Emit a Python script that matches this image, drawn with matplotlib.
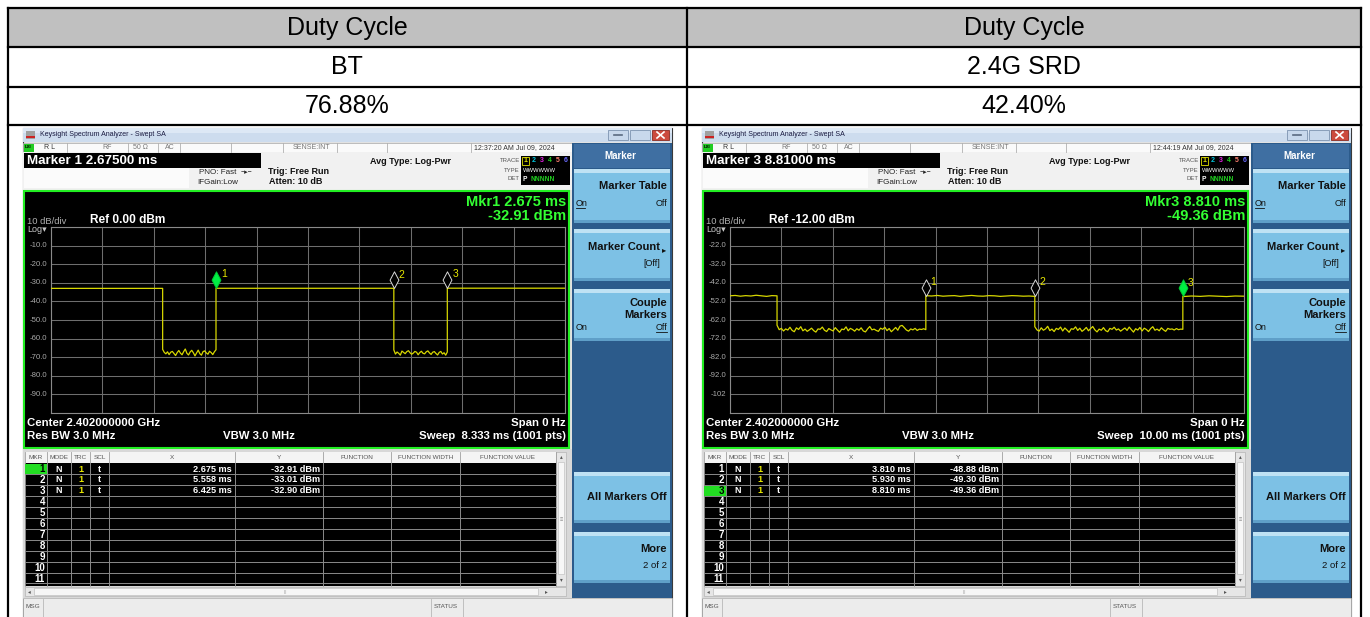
import numpy as np
import matplotlib
matplotlib.use('Agg')
import matplotlib.pyplot as plt
from matplotlib.patches import Rectangle
from matplotlib.path import Path

plt.rcParams['font.family'] = ['Liberation Sans', 'DejaVu Sans']

# ---------------- data ----------------
header_text = ['Duty Cycle', 'Duty Cycle']
mode_text = ['BT', '2.4G SRD']
duty_text = ['76.88%', '42.40%']

# BT capture
bt_sweep_ms = 8.333
bt_ref_dbm = 0.0
bt_tick_labels = ['-10.0', '-20.0', '-30.0', '-40.0', '-50.0', '-60.0', '-70.0', '-80.0', '-90.0']
bt_edges_ms = [0.0, 1.81, 2.675, 5.558, 6.425, 8.333]
bt_hi0 = [-33.0, -33.0]
bt_lo1 = [-65.8, -67.4, -68.2, -67.1, -68.6, -67.3, -66.9, -68.0, -69.1, -67.5, -66.4, -67.8,
          -68.7, -67.0, -65.6, -67.9, -68.8, -67.2, -66.3, -67.6, -69.3, -67.7, -66.2, -68.1,
          -68.9, -67.0, -66.6, -67.7, -68.4, -66.8, -67.5, -68.6, -67.1, -66.0]
bt_hi1 = [-32.95, -32.95]
bt_lo2 = [-66.1, -68.3, -67.2, -67.9, -68.9, -66.7, -67.4, -68.1, -67.0, -66.5, -67.6, -68.4,
          -67.8, -66.9, -67.3, -68.7, -67.5, -66.8, -67.9, -68.2, -67.1, -66.6, -67.7, -68.5,
          -67.3, -67.0, -68.0, -68.8, -67.4, -66.9, -68.3, -67.6, -68.9, -67.2]
bt_hi2 = [-32.9, -32.9]
bt_mkr_x = [2.675, 5.558, 6.425]
bt_mkr_y = [-32.91, -33.01, -32.90]
bt_active = 0

# 2.4G SRD capture
srd_sweep_ms = 10.0
srd_ref_dbm = -12.0
srd_tick_labels = ['-22.0', '-32.0', '-42.0', '-52.0', '-62.0', '-72.0', '-82.0', '-92.0', '-102']
srd_edges_ms = [0.0, 0.915, 3.81, 5.93, 8.81, 10.0]
srd_hi0 = [-49.0, -48.8, -49.2, -48.9, -49.1, -48.7, -49.0, -49.3, -48.9, -49.0]
srd_lo1 = [-64.8, -67.2, -66.5, -67.9, -66.8, -67.4, -65.9, -67.6, -68.3, -66.2, -67.1, -65.6,
           -67.8, -66.9, -68.1, -67.3, -66.4, -67.7, -68.5, -66.8, -67.0, -65.8, -67.5, -68.2,
           -66.6, -67.3, -67.9, -66.1, -67.4, -68.6, -66.9, -67.2, -65.7, -67.8, -66.5, -67.1,
           -68.0, -66.7, -67.5, -66.2, -67.9, -68.4, -66.8, -65.5, -67.3, -66.9, -67.6, -68.1,
           -66.4, -67.0, -65.9, -67.7, -66.6, -68.3, -67.2, -66.0, -67.5, -65.3, -64.9, -66.1,
           -67.4, -68.0, -66.8, -67.3, -66.5, -67.6, -66.9, -67.1, -66.7, -67.2]
srd_hi1 = [-48.9, -49.1, -48.8, -49.2, -49.0, -48.9, -49.3, -49.0, -48.8, -49.1, -49.2, -48.9,
           -49.0, -49.3, -49.1, -48.9, -49.0, -49.2, -49.1, -49.3]
srd_lo2 = [-65.6, -67.3, -68.0, -66.2, -67.5, -66.8, -65.4, -67.7, -66.9, -68.2, -66.5, -67.1,
           -65.8, -67.9, -66.3, -67.4, -68.6, -66.7, -67.0, -65.7, -67.6, -66.4, -68.1, -67.2,
           -66.0, -67.8, -66.6, -65.5, -67.3, -68.4, -66.9, -67.5, -66.1, -67.7, -68.3, -66.5,
           -67.0, -65.9, -67.4, -66.8, -68.0, -67.1, -66.3, -67.6, -65.8, -67.2, -68.5, -66.7,
           -67.4, -66.0, -67.9, -66.4, -67.1, -68.2, -66.6, -65.6, -67.5, -66.9, -67.8, -66.2,
           -67.3, -68.1, -66.5, -67.0, -66.8, -67.4, -66.6, -67.2, -66.9, -67.0]
srd_hi2 = [-49.4, -49.1, -49.3, -49.0, -49.2, -49.4, -49.1, -49.2]
srd_mkr_x = [3.810, 5.930, 8.810]
srd_mkr_y = [-48.88, -49.30, -49.36]
srd_active = 2

screens = [
    dict(x0=23, marker_title='Marker 1 2.67500 ms', clock='12:37:20 AM Jul 09, 2024',
         ref_text='Ref 0.00 dBm', mkr_line1='Mkr1 2.675 ms', mkr_line2='-32.91 dBm',
         sweep_text='Sweep  8.333 ms (1001 pts)', sweep=bt_sweep_ms, ref=bt_ref_dbm,
         ticks=bt_tick_labels, edges=bt_edges_ms,
         segs=[bt_hi0, bt_lo1, bt_hi1, bt_lo2, bt_hi2],
         mx=bt_mkr_x, my=bt_mkr_y, active=bt_active),
    dict(x0=702, marker_title='Marker 3 8.81000 ms', clock='12:44:19 AM Jul 09, 2024',
         ref_text='Ref -12.00 dBm', mkr_line1='Mkr3 8.810 ms', mkr_line2='-49.36 dBm',
         sweep_text='Sweep  10.00 ms (1001 pts)', sweep=srd_sweep_ms, ref=srd_ref_dbm,
         ticks=srd_tick_labels, edges=srd_edges_ms,
         segs=[srd_hi0, srd_lo1, srd_hi1, srd_lo2, srd_hi2],
         mx=srd_mkr_x, my=srd_mkr_y, active=srd_active),
]

# ---------------- figure ----------------
W, H = 1370, 617
fig = plt.figure(figsize=(13.7, 6.17), dpi=100)
bg = fig.add_axes([0, 0, 1, 1], zorder=0)
bg.set_xlim(0, W)
bg.set_ylim(H, 0)
bg.axis('off')

# outer word table
bg.add_patch(Rectangle((8, 8), 1353, 39, facecolor='#c0c0c0', edgecolor='none', zorder=1))
for yy in [8, 47, 87, 125]:
    bg.plot([8, 1361], [yy, yy], color='black', lw=1.6, zorder=3, solid_capstyle='projecting')
for xx in [8, 687, 1361]:
    bg.plot([xx, xx], [8, 617], color='black', lw=1.6, zorder=3)
for i, cx in enumerate([347, 1024]):
    bg.text(cx, 28, header_text[i], fontsize=18, ha='center', va='center', zorder=4)
    bg.text(cx, 67, mode_text[i], fontsize=18, ha='center', va='center', zorder=4)
    bg.text(cx, 106, duty_text[i], fontsize=18, ha='center', va='center', zorder=4)

# marker shape: diamond sitting on top of the point
diamond = Path([(0, 0), (0.53, 1), (0, 2), (-0.53, 1), (0, 0)],
               [Path.MOVETO, Path.LINETO, Path.LINETO, Path.LINETO, Path.CLOSEPOLY])

GX, GY, GW, GH = 28, 227, 514, 186   # graticule inside the screenshot
COLS = [2, 24, 48, 67, 86, 212, 300, 368, 437, 533]


def draw_screen(c):
    x0 = c['x0']

    def R(lx, y, w, h, fc, ec='none', lw=0, z=2):
        bg.add_patch(Rectangle((x0 + lx, y), w, h, facecolor=fc, edgecolor=ec, linewidth=lw, zorder=z))

    def T(lx, y, s, size, color='black', weight='normal', ha='left', z=6):
        bg.text(x0 + lx, y, s, fontsize=size, color=color, fontweight=weight,
                ha=ha, va='center', zorder=z)

    def L(x1, y1, x2, y2, color, lw=0.7, z=4):
        bg.plot([x0 + x1, x0 + x2], [y1, y2], color=color, lw=lw, zorder=z)

    # window
    R(0, 128, 649, 489, '#e2e2e2', ec='#3a3a3a', lw=0.8, z=1)
    R(0, 128, 649, 14, '#cddcee')
    R(0, 128, 649, 5, '#dde8f5')
    R(3, 131, 9, 8, '#a0a0a0')
    R(3, 136, 9, 2, '#cc2222', z=3)
    T(17, 135, 'Keysight Spectrum Analyzer - Swept SA', 5, '#1a1a40')
    R(585, 130, 20, 10, '#c8d8ec', ec='#7d93b0', lw=0.6, z=3)
    R(607, 130, 20, 10, '#c8d8ec', ec='#7d93b0', lw=0.6, z=3)
    R(629, 130, 17, 10, '#cc4a3e', ec='#8a2a22', lw=0.6, z=3)
    L(591, 135, 599, 135, '#5a6a80', 1.2)
    L(634, 132, 641, 138, 'white', 1.2)
    L(634, 138, 641, 132, 'white', 1.2)

    # status row
    R(0, 143, 549, 9, '#fafafa', ec='#a8a8a8', lw=0.5, z=2)
    for sx in [44, 105, 135, 157, 208, 260, 314, 364, 448]:
        L(sx, 143, sx, 152, '#b0b0b0', 0.6)
    R(1, 143.5, 10, 8, '#22cc22', z=3)
    T(2, 147.5, 'LXI', 3.2, 'black', 'bold')
    T(21, 147.5, 'R L', 5, '#333333')
    T(79, 147.5, 'RF', 5, '#777777')
    T(110, 147.5, '50 Ω', 5, '#777777')
    T(142, 147.5, 'AC', 5, '#777777')
    T(288, 147.5, 'SENSE:INT', 5, '#777777', ha='center')
    T(451, 147.5, c['clock'], 5, '#333333')

    # info strip
    R(0, 152, 549, 38, '#f1f1f1')
    R(1, 168, 165, 20, '#fbfbfb')
    R(1, 153, 237, 15, 'black', z=3)
    T(4, 160.5, c['marker_title'], 9.6, 'white', 'bold')
    T(213, 173, 'PNO: Fast', 5.8, '#222222', ha='right')
    T(218, 173, '−▸−', 5, '#222222')
    T(174, 183, 'IFGain:Low', 5.8, '#222222')
    T(245, 171, 'Trig: Free Run', 6.5, '#111111', 'bold')
    T(246, 182, 'Atten: 10 dB', 6.5, '#111111', 'bold')
    T(347, 161, 'Avg Type: Log-Pwr', 6.5, '#111111', 'bold')
    T(497, 161, 'TRACE', 4.3, '#555555', ha='right')
    T(497, 170, 'TYPE', 4.3, '#555555', ha='right')
    T(497, 179, 'DET', 4.3, '#555555', ha='right')
    R(498, 156, 49, 29, 'black', z=3)
    R(499.5, 157, 7, 8, 'none', ec='#e0e000', lw=0.6, z=5)
    tcol = ['#e0e000', '#00c8e0', '#e020e0', '#20d020', '#ff8070', '#6a6aff']
    for k in range(6):
        T(503 + 8 * k, 161, str(k + 1), 5, tcol[k], 'bold', ha='center')
    T(500, 170, 'WWWWWW', 4.2, 'white')
    T(500, 179.5, 'P', 4.8, 'white', 'bold')
    T(508, 179.5, 'NNNNN', 4.8, '#20d020', 'bold')

    # measurement screen
    R(1, 191, 545, 257, 'black', ec='#22ee22', lw=1.5, z=3)
    T(543, 202, c['mkr_line1'], 10.5, '#33ff33', 'bold', ha='right')
    T(543, 216, c['mkr_line2'], 10.5, '#33ff33', 'bold', ha='right')
    T(4, 222, '10 dB/div', 6.8, '#b0b0b0')
    T(67, 220, c['ref_text'], 8.6, 'white', 'bold')
    T(4, 229.5, 'Log▾', 6.5, '#c8c8c8')
    for k, lab in enumerate(c['ticks']):
        T(24, GY + (k + 1) * GH / 10, lab, 5.6, '#a8a8a8', ha='right')
    T(4, 423, 'Center 2.402000000 GHz', 8.2, 'white', 'bold')
    T(4, 436, 'Res BW 3.0 MHz', 8.2, 'white', 'bold')
    T(200, 436, 'VBW 3.0 MHz', 8.2, 'white', 'bold')
    T(543, 423, 'Span 0 Hz', 8.2, 'white', 'bold', ha='right')
    T(543, 436, c['sweep_text'], 8.2, 'white', 'bold', ha='right')

    # trace graticule
    ax = fig.add_axes([(x0 + GX) / W, 1 - (GY + GH) / H, GW / W, GH / H], zorder=2)
    ax.set_facecolor('black')
    ax.set_xlim(0, c['sweep'])
    ax.set_ylim(c['ref'] - 100, c['ref'])
    ax.set_xticks(np.linspace(0, c['sweep'], 11))
    ax.set_yticks(c['ref'] - 10 * np.arange(11))
    ax.grid(True, color='#6e6e6e', lw=0.75)
    ax.tick_params(length=0, labelbottom=False, labelleft=False)
    for sp in ax.spines.values():
        sp.set_color('#8a8a8a')
        sp.set_linewidth(0.8)
    xs, ys = [], []
    for i, vals in enumerate(c['segs']):
        xs.extend(np.linspace(c['edges'][i], c['edges'][i + 1], len(vals)))
        ys.extend(vals)
    ax.plot(xs, ys, color='#d8d800', lw=0.9, zorder=3)
    for i, (mx, my) in enumerate(zip(c['mx'], c['my'])):
        if i == c['active']:
            fc, ec = '#00ee44', '#00cc33'
        else:
            fc, ec = 'black', '#d8d8d8'
        ax.plot([mx], [my], marker=diamond, ms=24, mfc=fc, mec=ec, mew=0.7,
                ls='none', clip_on=False, zorder=5)
        ax.annotate(str(i + 1), (mx, my), xytext=(3.5, 10), textcoords='offset points',
                    color='#e8e800', fontsize=7.5, ha='left', va='center', zorder=6)

    # marker table
    R(0, 448.5, 549, 150, '#d8d8d8')
    R(2, 452, 531, 11, '#f4f4f4', z=3)
    R(2, 463, 531, 123, 'black', z=3)
    for cx in COLS:
        L(cx, 452, cx, 586, '#a0a0a0', 0.6)
    heads = ['MKR', 'MODE', 'TRC', 'SCL', 'X', 'Y', 'FUNCTION', 'FUNCTION WIDTH', 'FUNCTION VALUE']
    for k, hname in enumerate(heads):
        T((COLS[k] + COLS[k + 1]) / 2, 457.5, hname, 4.6, '#555555', ha='center')
    for k in range(1, 12):
        L(2, 463 + 10.95 * k, 533, 463 + 10.95 * k, '#8a8a8a', 0.7)
    for k in range(11):
        yy = 469 + 10.95 * k
        col = 'white'
        if k == c['active']:
            R(2.5, yy - 5, 21.5, 10, '#22dd22', z=4)
            col = 'black'
        T(22, yy, str(k + 1), 7, col, 'bold', ha='right')
        if k < len(c['mx']):
            T(36, yy, 'N', 6.5, 'white', 'bold', ha='center')
            T(57.5, yy, '1', 6.5, '#e8e800', 'bold', ha='center')
            T(76.5, yy, 't', 6.5, 'white', 'bold', ha='center')
            T(209, yy, f"{c['mx'][k]:.3f} ms", 6.6, 'white', 'bold', ha='right')
            T(297, yy, f"{c['my'][k]:.2f} dBm", 6.6, 'white', 'bold', ha='right')
    R(533, 452, 10, 134, '#e6e6e6', ec='#b4b4b4', lw=0.5, z=3)
    R(535, 462, 6, 112, '#f7f7f7', ec='#c4c4c4', lw=0.5, z=4)
    T(538, 457, '▴', 4, '#555555', ha='center')
    T(538, 580, '▾', 4, '#555555', ha='center')
    T(538, 520, '≡', 4, '#888888', ha='center')
    R(2, 587, 541, 9, '#e6e6e6', ec='#b4b4b4', lw=0.5, z=3)
    R(11, 588, 504, 7, '#f6f6f6', ec='#c0c0c0', lw=0.5, z=4)
    T(5, 591.5, '◂', 4, '#555555')
    T(522, 591.5, '▸', 4, '#555555')
    T(262, 591.5, '|||', 3.2, '#999999', ha='center')

    # bottom message bar
    R(0, 598, 649, 19, '#ececec', ec='#b0b0b0', lw=0.5, z=3)
    L(20, 599, 20, 617, '#b8b8b8', 0.6, z=5)
    L(408, 599, 408, 617, '#b8b8b8', 0.6, z=5)
    L(440, 599, 440, 617, '#b8b8b8', 0.6, z=5)
    T(3, 607, 'MSG', 4.6, '#555555')
    T(411, 607, 'STATUS', 4.6, '#555555')

    # soft key panel
    R(549, 143, 100, 455, '#2c5b8b')
    R(551, 144, 96, 24, '#3f6fa2', z=3)
    T(597, 156, 'Marker', 7, 'white', 'bold', ha='center')
    for yt, hh in [(169, 54), (229, 52), (289, 52), (472, 51), (532, 51)]:
        R(551, yt, 96, hh, '#7dc1e5', z=3)
        R(551, yt, 96, 4, '#bfe2f4', z=3)
        R(551, yt + hh - 3, 96, 3, '#5f9fc8', z=3)
    T(644, 186, 'Marker Table', 8, '#111111', 'bold', ha='right')
    T(553, 204, 'On', 6.5, '#111111')
    L(553, 208, 562, 208, '#111111', 0.6, z=6)
    T(644, 204, 'Off', 6.5, '#111111', ha='right')
    T(637, 247, 'Marker Count', 8, '#111111', 'bold', ha='right')
    T(639, 251, '▸', 6, '#111111')
    T(637, 263, '[Off]', 6.5, '#111111', ha='right')
    T(644, 303, 'Couple', 8, '#111111', 'bold', ha='right')
    T(644, 315, 'Markers', 8, '#111111', 'bold', ha='right')
    T(553, 328, 'On', 6.5, '#111111')
    T(644, 328, 'Off', 6.5, '#111111', ha='right')
    L(633, 332, 644, 332, '#111111', 0.6, z=6)
    T(644, 497, 'All Markers Off', 8, '#111111', 'bold', ha='right')
    T(644, 549, 'More', 8, '#111111', 'bold', ha='right')
    T(644, 566, '2 of 2', 6.8, '#111111', ha='right')


for c in screens:
    draw_screen(c)

fig.savefig('out.png', dpi=100)
